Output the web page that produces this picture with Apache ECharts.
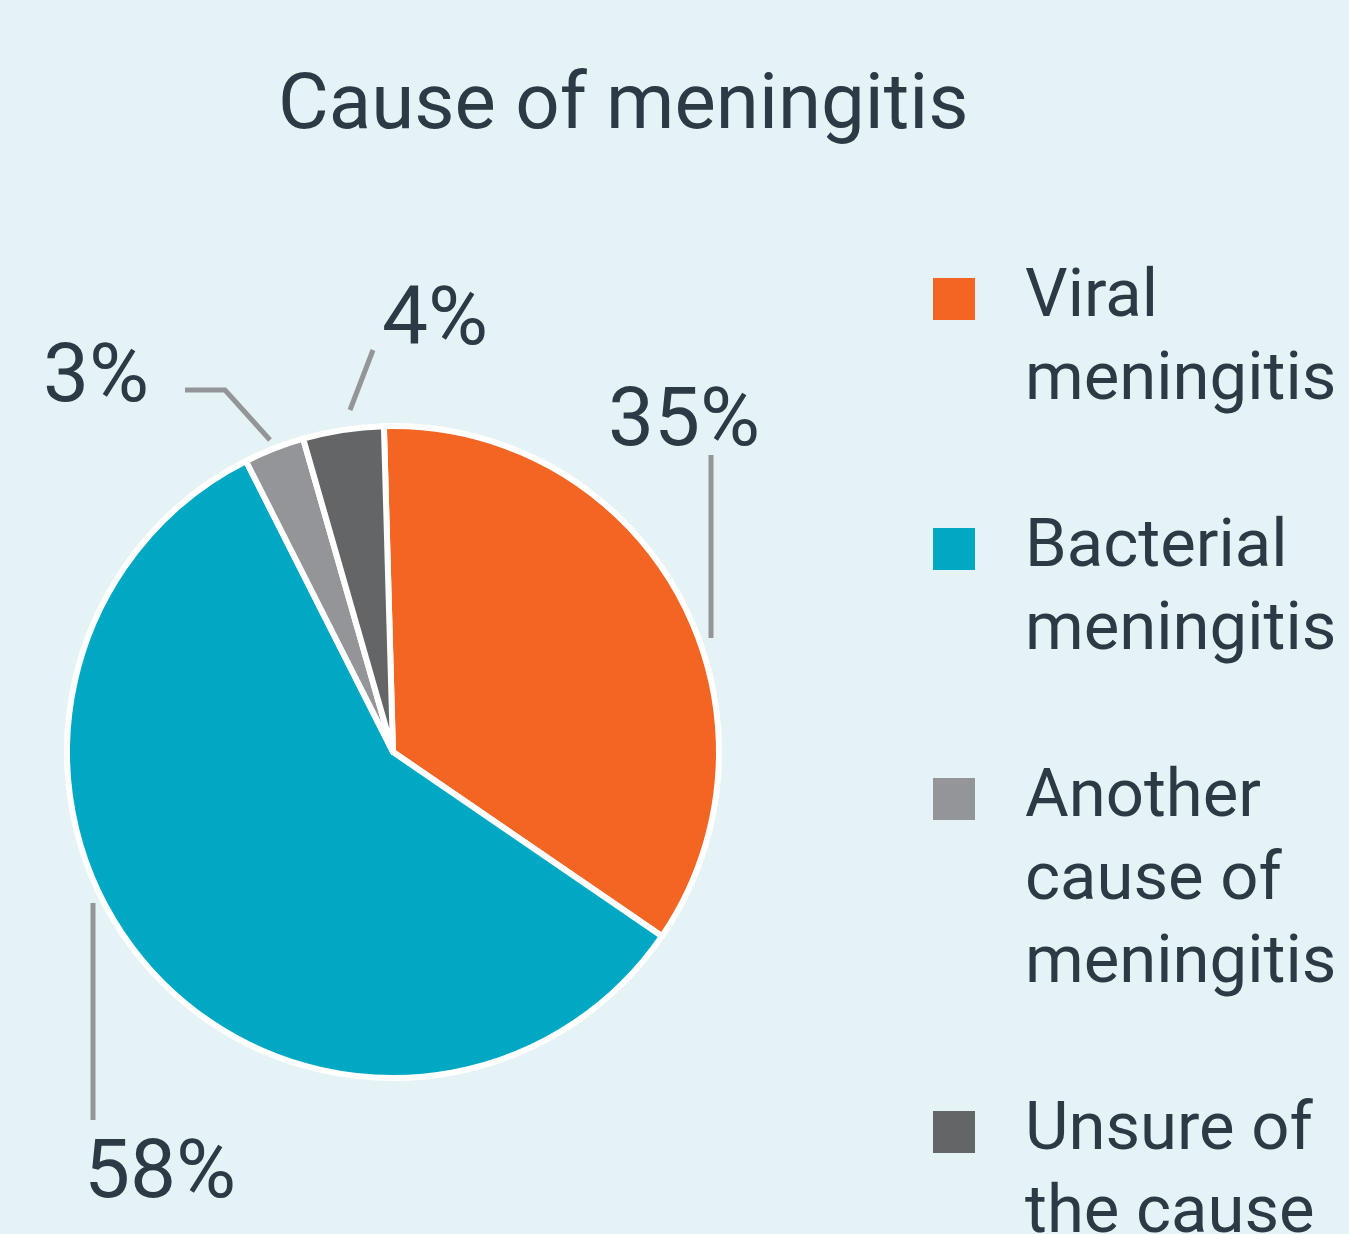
<!DOCTYPE html>
<html>
<head>
<meta charset="utf-8">
<title>Cause of meningitis</title>
<script src="https://cdn.jsdelivr.net/npm/echarts@6/dist/echarts.min.js"></script>
<style>
    html, body { margin: 0; padding: 0; background: #e5f2f6; }
    #main { width: 1349px; height: 1234px; }
</style>
</head>
<body>
<div id="main"></div>
<script>
// data
var causes = ['Viral meningitis', 'Bacterial meningitis', 'Another cause of meningitis', 'Unsure of the cause'];
var legendLines = [['Viral', 'meningitis'], ['Bacterial', 'meningitis'], ['Another', 'cause of', 'meningitis'], ['Unsure of', 'the cause']];
var shares = [35, 58, 3, 4];
var colors = ['#f26522', '#00a8c3', '#939598', '#646567'];

var textColor = '#2c3a46';
var font = 'Roboto';

// where each % label sits and how its leader line runs
var labelPos = [
    { x: 684, y: 424, line: [[711, 455], [711, 638]] },
    { x: 160, y: 1176, line: [[93, 903], [93, 1120]] },
    { x: 96, y: 380, line: [[185, 390], [225, 390], [270, 440]] },
    { x: 435, y: 323, line: [[373, 350], [350, 410]] }
];

// legend built by hand so the square sits on the first line
var legendGraphics = function () {
    var out = [];
    var y = 278;
    for (var i = 0; i < causes.length; i++) {
        out.push({
            type: 'rect',
            left: 933, top: y,
            shape: { width: 42, height: 42 },
            style: { fill: colors[i] },
            silent: true
        });
        out.push({
            type: 'text',
            left: 1025, top: y - 20,
            style: {
                text: legendLines[i].join('\n'),
                fill: textColor,
                font: '67px ' + font,
                lineHeight: 83
            },
            silent: true
        });
        y += legendLines[i].length * 83 + 84;
    }
    return out;
}();

var myChart = echarts.init(document.getElementById('main'));
var option = {
    backgroundColor: '#e5f2f6',
    animation: false,
    title: {
        text: 'Cause of meningitis',
        left: 273,
        top: 64,
        textStyle: {
            color: textColor,
            fontFamily: font,
            fontWeight: 'normal',
            fontSize: 78
        }
    },
    graphic: legendGraphics,
    series: [{
        type: 'pie',
        center: [393, 752],
        radius: 326,
        startAngle: 91.6,
        clockwise: true,
        silent: true,
        emphasis: { disabled: true },
        itemStyle: {
            borderColor: '#ffffff',
            borderWidth: 6
        },
        label: {
            show: true,
            overflow: 'none',
            formatter: function (p) { return p.value + '%'; },
            color: textColor,
            fontFamily: font,
            fontSize: 82
        },
        labelLine: {
            show: true,
            lineStyle: { color: '#939598', width: 5 }
        },
        labelLayout: function (params) {
            var pos = labelPos[params.dataIndex];
            return {
                x: pos.x,
                y: pos.y,
                width: 220,
                align: 'center',
                verticalAlign: 'middle',
                labelLinePoints: pos.line
            };
        },
        data: causes.map(function (name, i) {
            return { name: name, value: shares[i], itemStyle: { color: colors[i] } };
        })
    }]
};
myChart.setOption(option);
window.onresize = myChart.resize;
</script>
</body>
</html>
